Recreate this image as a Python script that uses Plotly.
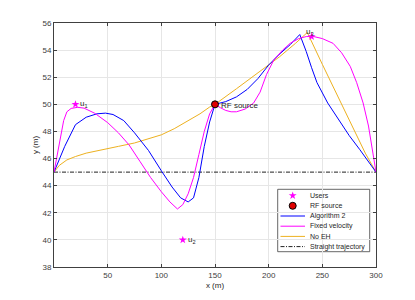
import plotly.graph_objects as go

# Algorithm 2 trajectory
alg_x = [0, 5, 10, 20, 30, 40, 48, 55, 65, 75, 88, 100, 110, 118, 125, 130, 135, 140, 145, 150,
         160, 170, 180, 190, 200, 210, 220, 229, 235, 240, 245, 255, 265, 275, 285, 292, 300]
alg_y = [45, 46.0, 46.9, 48.5, 49.05, 49.3, 49.35, 49.25, 48.8, 47.9, 46.6, 45.1, 43.9, 43.1, 42.8, 43.1, 44.6, 46.9, 48.7, 50.0,
         50.2, 50.55, 51.1, 51.9, 52.9, 53.7, 54.4, 55.15, 53.9, 52.7, 51.6, 50.1, 48.85, 47.7, 46.65, 45.9, 45.0]

# Fixed velocity trajectory
fix_x = [0, 3, 6, 9, 12, 16, 22, 28, 38, 50, 60, 70, 80, 90, 100, 108, 115, 120, 125, 130, 135, 140, 145, 150,
         155, 160, 165, 170, 178, 186, 192, 198, 205, 213, 220, 228, 235, 242, 250, 260, 268, 276, 282, 288, 293, 297, 300]
fix_y = [45, 46.2, 47.6, 48.8, 49.45, 49.7, 49.78, 49.72, 49.34, 48.65, 47.9, 47.0, 45.8, 44.6, 43.55, 42.8, 42.28, 42.6, 43.4, 44.6, 46.3, 48.0, 49.3, 50.0,
         49.75, 49.55, 49.45, 49.45, 49.65, 50.1, 50.9, 52.2, 53.3, 54.0, 54.5, 54.85, 55.0, 55.0, 54.85, 54.5, 53.8, 52.8, 51.6, 50.1, 48.4, 46.6, 45.0]

# No EH trajectory
noeh_x = [0, 5, 12, 20, 30, 40, 50, 60, 75, 90, 100, 112, 124, 136, 145, 150, 170, 190, 210, 225, 236,
          250, 260, 270, 280, 290, 300]
noeh_y = [45, 45.5, 45.9, 46.15, 46.4, 46.55, 46.7, 46.9, 47.15, 47.5, 47.75, 48.2, 48.72, 49.3, 49.8, 50.0, 51.15, 52.3, 53.5, 54.5, 55.3,
          52.95, 51.3, 49.65, 47.95, 46.4, 45.0]

# Straight trajectory
str_x = [0, 300]
str_y = [45, 45]

# Users and RF source
user_x = [20, 120, 240]
user_y = [50, 40, 55]
user_labels = ["u<sub>1</sub>", "u<sub>2</sub>", "u<sub>3</sub>"]
rf_x = [150]
rf_y = [50]

xticks = [50, 100, 150, 200, 250, 300]
yticks = [38, 40, 42, 44, 46, 48, 50, 52, 54, 56]

legend_names = ["Users", "RF source", "Algorithm 2", "Fixed velocity", "No EH", "Straight trajectory"]

FONT = "Liberation Sans, Arial, sans-serif"
AX = "#404040"
USER_C = "#FF00FF"
RF_C = "#E00000"
ALG_C = "#0000FF"
FIX_C = "#FF00FF"
NOEH_C = "#EDB120"
DASHDOT = "4px,1.5px,1px,1.5px"

# page offset of the figure (browser default body margin)
OFF = 8
W, H = 415 - OFF, 300 - OFF
# plot area in page pixels
L, R, T, B = 54, 376, 23, 267
def px(xp):
    return (xp - L) / (R - L)
def py(yp):
    return (B - yp) / (B - T)

fig = go.Figure()
fig.add_trace(go.Scatter(x=str_x, y=str_y, mode="lines", showlegend=False,
                         line=dict(color="#202020", width=1, dash=DASHDOT)))
fig.add_trace(go.Scatter(x=noeh_x, y=noeh_y, mode="lines", showlegend=False,
                         line=dict(color=NOEH_C, width=1)))
fig.add_trace(go.Scatter(x=alg_x, y=alg_y, mode="lines", showlegend=False,
                         line=dict(color=ALG_C, width=1)))
fig.add_trace(go.Scatter(x=fix_x, y=fix_y, mode="lines", showlegend=False,
                         line=dict(color=FIX_C, width=1)))
fig.add_trace(go.Scatter(x=user_x, y=user_y, mode="markers", showlegend=False,
                         marker=dict(symbol="star", size=6, color=USER_C)))
fig.add_trace(go.Scatter(x=rf_x, y=rf_y, mode="markers", showlegend=False,
                         marker=dict(symbol="circle", size=7, color=RF_C,
                                     line=dict(color="black", width=1))))

# custom compact legend
box_l, box_r, box_t, box_b = 277.7, 369.7, 189.3, 251.7
row_y = [195.6, 205.8, 216.0, 226.2, 236.4, 246.6]
shapes = [dict(type="rect", xref="paper", yref="paper",
               x0=px(box_l), x1=px(box_r), y0=py(box_b), y1=py(box_t),
               fillcolor="white", line=dict(color=AX, width=0.8), layer="between")]
line_styles = [dict(color=ALG_C, width=1), dict(color=FIX_C, width=1),
               dict(color=NOEH_C, width=1), dict(color="#202020", width=1, dash=DASHDOT)]
for i, st in enumerate(line_styles):
    yy = py(row_y[i + 2])
    shapes.append(dict(type="line", xref="paper", yref="paper", x0=px(280.5), x1=px(305),
                       y0=yy, y1=yy, line=st, layer="above"))

# legend markers on an overlay axis in paper-like units
fig.add_trace(go.Scatter(x=[px(292.7)], y=[py(row_y[0])], xaxis="x2", yaxis="y2", mode="markers",
                         showlegend=False, hoverinfo="skip",
                         marker=dict(symbol="star", size=6, color=USER_C)))
fig.add_trace(go.Scatter(x=[px(292.7)], y=[py(row_y[1])], xaxis="x2", yaxis="y2", mode="markers",
                         showlegend=False, hoverinfo="skip",
                         marker=dict(symbol="circle", size=7, color=RF_C, line=dict(color="black", width=1))))

annos = []
annos.append(dict(x=user_x[0], y=user_y[0], text=user_labels[0], xanchor="left", yanchor="middle",
                  xshift=3, showarrow=False))
annos.append(dict(x=user_x[1], y=user_y[1], text=user_labels[1], xanchor="left", yanchor="middle",
                  xshift=3, showarrow=False))
annos.append(dict(x=user_x[2], y=user_y[2], text=user_labels[2], xanchor="center", yanchor="bottom",
                  xshift=-2, yshift=-2, showarrow=False))
annos.append(dict(x=rf_x[0], y=rf_y[0], text="RF source", xanchor="left", yanchor="middle",
                  xshift=4, yshift=-1, showarrow=False))
for a in annos:
    a["font"] = dict(family=FONT, size=8, color="#262626")
for i, name in enumerate(legend_names):
    annos.append(dict(xref="paper", yref="paper", x=px(307.5), y=py(row_y[i]), text=name,
                      xanchor="left", yanchor="middle", showarrow=False,
                      font=dict(family=FONT, size=7, color="#262626")))

fig.update_layout(
    width=W, height=H,
    margin=dict(l=L - OFF, r=415 - R, t=T - OFF, b=300 - B, autoexpand=False),
    paper_bgcolor="white", plot_bgcolor="white",
    font=dict(family=FONT, size=8, color="#404040"),
    showlegend=False,
    annotations=annos,
    shapes=shapes,
    xaxis2=dict(overlaying="x", range=[0, 1], visible=False, fixedrange=True),
    yaxis2=dict(overlaying="y", range=[0, 1], visible=False, fixedrange=True),
    xaxis=dict(range=[0, 300], tickvals=xticks, showgrid=True, gridcolor="#E6E6E6", gridwidth=1,
               showline=True, linecolor=AX, linewidth=1, mirror="ticks", ticks="inside",
               ticklen=3, tickcolor=AX, zeroline=False, tickfont=dict(size=8),
               title=dict(text="x (m)", font=dict(size=8, color="#262626"), standoff=3)),
    yaxis=dict(range=[38, 56], tickvals=yticks, showgrid=True, gridcolor="#E6E6E6", gridwidth=1,
               showline=True, linecolor=AX, linewidth=1, mirror="ticks", ticks="inside",
               ticklen=3, tickcolor=AX, zeroline=False, tickfont=dict(size=8),
               title=dict(text="y (m)", font=dict(size=8, color="#262626"), standoff=2)),
)

fig.write_html("out.html")
